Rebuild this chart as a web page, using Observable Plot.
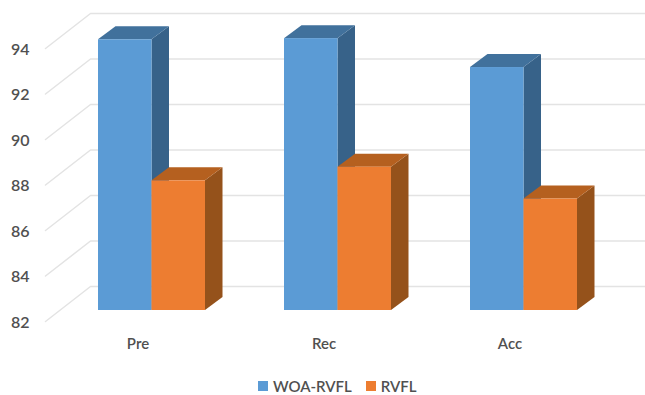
<!DOCTYPE html>
<html>
<head>
<meta charset="utf-8">
<script src="https://cdn.jsdelivr.net/npm/d3@7"></script>
<script src="https://cdn.jsdelivr.net/npm/@observablehq/plot@0.6"></script>
<style>
  html, body { margin: 0; padding: 0; background: #fff; }
  svg { display: block; }
  .legend { height: 20px; margin-top: 1px; padding-left: 258px; display: flex; align-items: center;
            font: 600 15px Lato, sans-serif; color: #505050; }
  .legend i { width: 10px; height: 10px; margin-right: 5px; display: inline-block; }
  .legend span { margin-right: 14px; }
</style>
</head>
<body>
<div id="chart"></div>
<script>
// Scores per metric
const categories = ["Pre", "Rec", "Acc"];
const woaRvfl = [93.9, 93.95, 92.68];
const rvfl = [87.7, 88.3, 86.9];
const ticks = [82, 84, 86, 88, 90, 92, 94];

// Scale geometry: one x unit is the spacing between metric groups
const slotPx = 186, unitPx = 22.75;
const xUnits = px => px / slotPx, yUnits = px => px / unitPx;

// Fake-3D extrusion, expressed in data units
const barW = xUnits(53.5);
const depthX = xUnits(17.5), depthY = yUnits(13);
const wallLeft = xUnits(45 - 151.5), wallBack = xUnits(90 - 151.5), wallRight = xUnits(645 - 151.5);
const wallFrontY = yUnits(-11), wallBackY = yUnits(24);

const gridPaths = ticks.flatMap(t => [
  {t, x: wallLeft, y: t + wallFrontY},
  {t, x: wallBack, y: t + wallBackY},
  {t, x: wallRight, y: t + wallBackY}
]);

// Faces of one extruded bar whose front spans x0..x0+barW and 82..v
function sideFace(values, offset) {
  return values.flatMap((v, i) => {
    const x = i + offset + barW;
    return [
      {i, x, lo: 82, hi: v},
      {i, x: x + depthX, lo: 82 + depthY, hi: v + depthY}
    ];
  });
}
function topFace(values, offset) {
  return values.flatMap((v, i) => {
    const x = i + offset;
    return [
      {i, x, lo: v, hi: v},
      {i, x: x + depthX, lo: v, hi: v + depthY},
      {i, x: x + barW, lo: v, hi: v + depthY},
      {i, x: x + barW + depthX, lo: v + depthY, hi: v + depthY}
    ];
  });
}
function barMarks(values, offset, front, top, side) {
  return [
    Plot.areaY(sideFace(values, offset), {x: "x", y1: "lo", y2: "hi", z: "i", fill: side, curve: "linear"}),
    Plot.areaY(topFace(values, offset), {x: "x", y1: "lo", y2: "hi", z: "i", fill: top, curve: "linear"}),
    Plot.rect(values, {
      x1: (d, i) => i + offset,
      x2: (d, i) => i + offset + barW,
      y1: 82,
      y2: d => d,
      fill: front
    })
  ];
}

const plot = Plot.plot({
  width: 645,
  height: 375,
  margin: 0,
  style: {fontFamily: "Lato, sans-serif", background: "#fff"},
  x: {domain: [0, 2], range: [151.5, 523.5], axis: null},
  y: {domain: [82, 94], range: [310, 37], axis: null},
  marks: [
    Plot.line(gridPaths, {x: "x", y: "y", z: "t", stroke: "#e3e3e3", strokeWidth: 1.5}),
    Plot.text(ticks, {
      x: xUnits(29 - 151.5),
      y: d => d + wallFrontY,
      dy: 1,
      text: d => String(d),
      textAnchor: "end",
      fontSize: 16,
      fontWeight: 600,
      fill: "#505050"
    }),
    ...barMarks(woaRvfl, -barW, "#5b9bd5", "#41719c", "#376289"),
    ...barMarks(rvfl, 0, "#ed7d31", "#b5601f", "#95521b"),
    Plot.text(categories, {
      x: (d, i) => i,
      y: 82 - yUnits(33),
      dx: -14,
      dy: 1,
      text: d => d,
      fontSize: 15,
      fontWeight: 600,
      fill: "#505050"
    })
  ]
});
document.getElementById("chart").appendChild(plot);

// Series key under the chart
const legend = d3.select("body").append("div").attr("class", "legend");
[["WOA-RVFL", "#5b9bd5"], ["RVFL", "#ed7d31"]].forEach(([name, color]) => {
  legend.append("i").style("background", color);
  legend.append("span").text(name);
});
</script>
</body>
</html>
